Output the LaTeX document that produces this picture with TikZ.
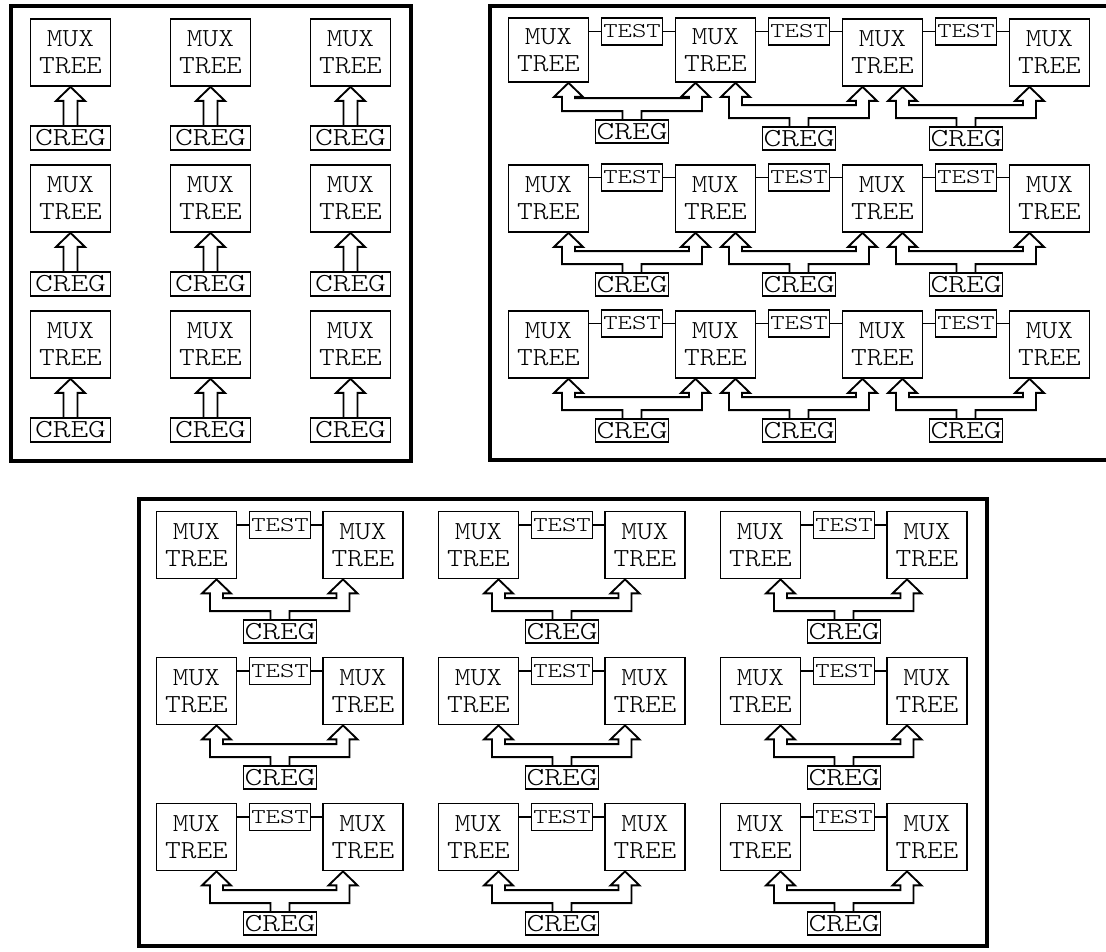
\documentclass[tikz,border=0pt]{standalone}
\usepackage{fontspec}
\newfontfamily\muxface[FakeStretch=1.15]{lmmonolt10-regular.otf}
\newfontfamily\regface[FakeStretch=1.3]{lmmonolt10-regular.otf}
\usetikzlibrary{calc}

\newcommand{\upshaft}[2]{%
  \draw[hollow] ($(#1.north)+(-7,0)$) -- ($(#2.south)+(-7,14)$) -- ($(#2.south)+(-14.5,14)$) -- (#2.south)
    -- ($(#2.south)+(14.5,14)$) -- ($(#2.south)+(7,14)$) -- ($(#1.north)+(7,0)$);}

\newcommand{\forkshaft}[3]{%
  \coordinate (tipL) at ($(#2.south)+(20,0)$);
  \coordinate (tipR) at ($(#3.south)+(-20,0)$);
  \coordinate (base) at (#1.north);
  \draw[hollow] ($(base)+(-9.5,0)$) -- ($(base)+(-9.5,-8)$) -- ($(tipL |- base)+(-6.5,-8)$)
    -- ($(tipL)+(-6.5,14)$) -- ($(tipL)+(-14.5,14)$) -- (tipL) -- ($(tipL)+(14.5,14)$) -- ($(tipL)+(6.5,14)$)
    -- ($(tipL |- base)+(6.5,-21)$) -- ($(tipR |- base)+(-6.5,-21)$)
    -- ($(tipR)+(-6.5,14)$) -- ($(tipR)+(-14.5,14)$) -- (tipR) -- ($(tipR)+(14.5,14)$) -- ($(tipR)+(6.5,14)$)
    -- ($(tipR |- base)+(6.5,-8)$) -- ($(base)+(9.5,-8)$) -- ($(base)+(9.5,0)$);}

\begin{document}
\begin{tikzpicture}[x=0.75pt, y=-0.75pt,
  muxbox/.style={draw, line width=1.3pt, minimum width=60pt, minimum height=50.25pt, inner sep=0pt, align=center, font=\muxface\fontsize{19.5}{20.25}\selectfont},
  cregbox/.style={draw, line width=1.3pt, minimum width=54.75pt, minimum height=17.25pt, inner sep=0pt, font=\regface\fontsize{19.5}{20}\selectfont},
  cregwide/.style={cregbox, minimum width=60pt, minimum height=18pt},
  testbox/.style={draw, line width=1.3pt, minimum width=45.75pt, minimum height=20.25pt, inner sep=0pt, font=\regface\fontsize{15.75}{16}\selectfont},
  panel/.style={line width=2.4pt},
  hollow/.style={line width=1.4pt},
  link/.style={line width=1.3pt}]

\useasboundingbox (0,0) rectangle (1106,951);

\draw[panel] (11,6) rectangle (411,461);
\draw[panel] (1106,6) -- (490,6) -- (490,460) -- (1106,460);
\draw[panel] (139,499) rectangle (987,946);

\node[muxbox] (mA11) at (70.5,52.5) {MUX\\TREE};
\node[muxbox] (mA12) at (210.5,52.5) {MUX\\TREE};
\node[muxbox] (mA13) at (350.5,52.5) {MUX\\TREE};
\node[muxbox] (mA21) at (70.5,198.5) {MUX\\TREE};
\node[muxbox] (mA22) at (210.5,198.5) {MUX\\TREE};
\node[muxbox] (mA23) at (350.5,198.5) {MUX\\TREE};
\node[muxbox] (mA31) at (70.5,344.5) {MUX\\TREE};
\node[muxbox] (mA32) at (210.5,344.5) {MUX\\TREE};
\node[muxbox] (mA33) at (350.5,344.5) {MUX\\TREE};

\node[cregwide] (cA11) at (70.5,138) {CREG};
\node[cregwide] (cA12) at (210.5,138) {CREG};
\node[cregwide] (cA13) at (350.5,138) {CREG};
\node[cregwide] (cA21) at (70.5,284) {CREG};
\node[cregwide] (cA22) at (210.5,284) {CREG};
\node[cregwide] (cA23) at (350.5,284) {CREG};
\node[cregwide] (cA31) at (70.5,430) {CREG};
\node[cregwide] (cA32) at (210.5,430) {CREG};
\node[cregwide] (cA33) at (350.5,430) {CREG};

\upshaft{cA11}{mA11} \upshaft{cA12}{mA12} \upshaft{cA13}{mA13}
\upshaft{cA21}{mA21} \upshaft{cA22}{mA22} \upshaft{cA23}{mA23}
\upshaft{cA31}{mA31} \upshaft{cA32}{mA32} \upshaft{cA33}{mA33}

\node[muxbox, minimum height=48pt] (mB11) at (548.5,50) {MUX\\TREE};
\node[muxbox, minimum height=48pt] (mB12) at (715.5,50) {MUX\\TREE};
\node[muxbox] (mB13) at (882.5,52.5) {MUX\\TREE};
\node[muxbox] (mB14) at (1049.5,52.5) {MUX\\TREE};
\node[muxbox] (mB21) at (548.5,198.5) {MUX\\TREE};
\node[muxbox] (mB22) at (715.5,198.5) {MUX\\TREE};
\node[muxbox] (mB23) at (882.5,198.5) {MUX\\TREE};
\node[muxbox] (mB24) at (1049.5,198.5) {MUX\\TREE};
\node[muxbox] (mB31) at (548.5,344.5) {MUX\\TREE};
\node[muxbox] (mB32) at (715.5,344.5) {MUX\\TREE};
\node[muxbox] (mB33) at (882.5,344.5) {MUX\\TREE};
\node[muxbox] (mB34) at (1049.5,344.5) {MUX\\TREE};

\node[testbox] (tB11) at (632,31.5) {TEST};
\node[testbox] (tB12) at (799,31.5) {TEST};
\node[testbox] (tB13) at (966,31.5) {TEST};
\node[testbox] (tB21) at (632,177.5) {TEST};
\node[testbox] (tB22) at (799,177.5) {TEST};
\node[testbox] (tB23) at (966,177.5) {TEST};
\node[testbox] (tB31) at (632,323.5) {TEST};
\node[testbox] (tB32) at (799,323.5) {TEST};
\node[testbox] (tB33) at (966,323.5) {TEST};

\node[cregbox] (cB11) at (632,131.5) {CREG};
\node[cregbox] (cB12) at (799,138.5) {CREG};
\node[cregbox] (cB13) at (966,138.5) {CREG};
\node[cregbox] (cB21) at (632,284.5) {CREG};
\node[cregbox] (cB22) at (799,284.5) {CREG};
\node[cregbox] (cB23) at (966,284.5) {CREG};
\node[cregbox] (cB31) at (632,430.5) {CREG};
\node[cregbox] (cB32) at (799,430.5) {CREG};
\node[cregbox] (cB33) at (966,430.5) {CREG};

\draw[link] (tB11.west) -- (tB11.west -| mB11.east);
\draw[link] (tB11.east) -- (tB11.east -| mB12.west);
\draw[link] (tB12.west) -- (tB12.west -| mB12.east);
\draw[link] (tB12.east) -- (tB12.east -| mB13.west);
\draw[link] (tB13.west) -- (tB13.west -| mB13.east);
\draw[link] (tB13.east) -- (tB13.east -| mB14.west);
\draw[link] (tB21.west) -- (tB21.west -| mB21.east);
\draw[link] (tB21.east) -- (tB21.east -| mB22.west);
\draw[link] (tB22.west) -- (tB22.west -| mB22.east);
\draw[link] (tB22.east) -- (tB22.east -| mB23.west);
\draw[link] (tB23.west) -- (tB23.west -| mB23.east);
\draw[link] (tB23.east) -- (tB23.east -| mB24.west);
\draw[link] (tB31.west) -- (tB31.west -| mB31.east);
\draw[link] (tB31.east) -- (tB31.east -| mB32.west);
\draw[link] (tB32.west) -- (tB32.west -| mB32.east);
\draw[link] (tB32.east) -- (tB32.east -| mB33.west);
\draw[link] (tB33.west) -- (tB33.west -| mB33.east);
\draw[link] (tB33.east) -- (tB33.east -| mB34.west);

\forkshaft{cB11}{mB11}{mB12} \forkshaft{cB12}{mB12}{mB13} \forkshaft{cB13}{mB13}{mB14}
\forkshaft{cB21}{mB21}{mB22} \forkshaft{cB22}{mB22}{mB23} \forkshaft{cB23}{mB23}{mB24}
\forkshaft{cB31}{mB31}{mB32} \forkshaft{cB32}{mB32}{mB33} \forkshaft{cB33}{mB33}{mB34}

\node[muxbox] (mC11) at (196.5,545) {MUX\\TREE};
\node[muxbox] (mC12) at (363,545) {MUX\\TREE};
\node[muxbox] (mC13) at (478.5,545) {MUX\\TREE};
\node[muxbox] (mC14) at (645,545) {MUX\\TREE};
\node[muxbox] (mC15) at (760.5,545) {MUX\\TREE};
\node[muxbox] (mC16) at (927,545) {MUX\\TREE};
\node[muxbox] (mC21) at (196.5,691) {MUX\\TREE};
\node[muxbox] (mC22) at (363,691) {MUX\\TREE};
\node[muxbox] (mC23) at (478.5,691) {MUX\\TREE};
\node[muxbox] (mC24) at (645,691) {MUX\\TREE};
\node[muxbox] (mC25) at (760.5,691) {MUX\\TREE};
\node[muxbox] (mC26) at (927,691) {MUX\\TREE};
\node[muxbox] (mC31) at (196.5,837) {MUX\\TREE};
\node[muxbox] (mC32) at (363,837) {MUX\\TREE};
\node[muxbox] (mC33) at (478.5,837) {MUX\\TREE};
\node[muxbox] (mC34) at (645,837) {MUX\\TREE};
\node[muxbox] (mC35) at (760.5,837) {MUX\\TREE};
\node[muxbox] (mC36) at (927,837) {MUX\\TREE};

\node[testbox] (tC11) at (280,525) {TEST};
\node[testbox] (tC12) at (562,525) {TEST};
\node[testbox] (tC13) at (844,525) {TEST};
\node[testbox] (tC21) at (280,671) {TEST};
\node[testbox] (tC22) at (562,671) {TEST};
\node[testbox] (tC23) at (844,671) {TEST};
\node[testbox] (tC31) at (280,817) {TEST};
\node[testbox] (tC32) at (562,817) {TEST};
\node[testbox] (tC33) at (844,817) {TEST};

\node[cregbox] (cC11) at (280,631.5) {CREG};
\node[cregbox] (cC12) at (562,631.5) {CREG};
\node[cregbox] (cC13) at (844,631.5) {CREG};
\node[cregbox] (cC21) at (280,777.5) {CREG};
\node[cregbox] (cC22) at (562,777.5) {CREG};
\node[cregbox] (cC23) at (844,777.5) {CREG};
\node[cregbox] (cC31) at (280,923.5) {CREG};
\node[cregbox] (cC32) at (562,923.5) {CREG};
\node[cregbox] (cC33) at (844,923.5) {CREG};

\draw[link] (tC11.west) -- (tC11.west -| mC11.east);
\draw[link] (tC11.east) -- (tC11.east -| mC12.west);
\draw[link] (tC12.west) -- (tC12.west -| mC13.east);
\draw[link] (tC12.east) -- (tC12.east -| mC14.west);
\draw[link] (tC13.west) -- (tC13.west -| mC15.east);
\draw[link] (tC13.east) -- (tC13.east -| mC16.west);
\draw[link] (tC21.west) -- (tC21.west -| mC21.east);
\draw[link] (tC21.east) -- (tC21.east -| mC22.west);
\draw[link] (tC22.west) -- (tC22.west -| mC23.east);
\draw[link] (tC22.east) -- (tC22.east -| mC24.west);
\draw[link] (tC23.west) -- (tC23.west -| mC25.east);
\draw[link] (tC23.east) -- (tC23.east -| mC26.west);
\draw[link] (tC31.west) -- (tC31.west -| mC31.east);
\draw[link] (tC31.east) -- (tC31.east -| mC32.west);
\draw[link] (tC32.west) -- (tC32.west -| mC33.east);
\draw[link] (tC32.east) -- (tC32.east -| mC34.west);
\draw[link] (tC33.west) -- (tC33.west -| mC35.east);
\draw[link] (tC33.east) -- (tC33.east -| mC36.west);

\forkshaft{cC11}{mC11}{mC12} \forkshaft{cC12}{mC13}{mC14} \forkshaft{cC13}{mC15}{mC16}
\forkshaft{cC21}{mC21}{mC22} \forkshaft{cC22}{mC23}{mC24} \forkshaft{cC23}{mC25}{mC26}
\forkshaft{cC31}{mC31}{mC32} \forkshaft{cC32}{mC33}{mC34} \forkshaft{cC33}{mC35}{mC36}

\end{tikzpicture}
\end{document}
